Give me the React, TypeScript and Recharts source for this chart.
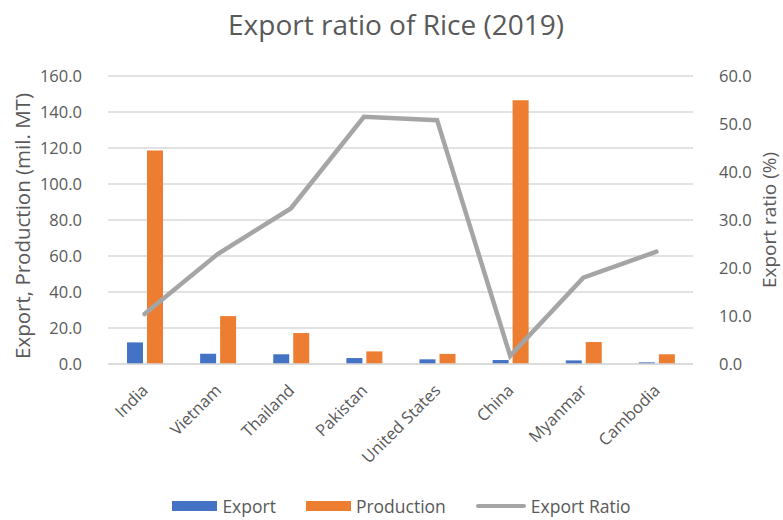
import React from "react";
import {
  Bar,
  CartesianGrid,
  ComposedChart,
  Legend,
  Line,
  XAxis,
  YAxis,
} from "recharts";

const countries = ["India", "Vietnam", "Thailand", "Pakistan", "United States", "China", "Myanmar", "Cambodia"];
const exportVals = [12.0, 5.7, 5.4, 3.3, 2.6, 2.2, 2.0, 0.9];
const productionVals = [118.6, 26.6, 17.2, 7.0, 5.6, 146.5, 12.2, 5.4];
const ratioVals = [10.4, 22.9, 32.4, 51.5, 50.8, 1.7, 18.0, 23.4];
const leftTicks = [0, 20, 40, 60, 80, 100, 120, 140, 160];
const rightTicks = [0, 10, 20, 30, 40, 50, 60];

const data = countries.map((name, i) => ({
  name,
  exp: exportVals[i],
  prod: productionVals[i],
  ratio: ratioVals[i],
}));

const FONT = "'Open Sans', 'Liberation Sans', sans-serif";
const TEXT = "#595959";

const legendItems = [
  { label: "Export", color: "#4472C4", kind: "bar" },
  { label: "Production", color: "#ED7D31", kind: "bar" },
  { label: "Export Ratio", color: "#A5A5A5", kind: "line" },
];

function XTick(props: any) {
  const { x, y, payload } = props;
  return (
    <g transform={`translate(${x + 1},${y + 16})`}>
      <text
        transform="rotate(-45)"
        textAnchor="end"
        dy={5}
        fill={TEXT}
        fontSize={16.5}
        fontFamily={FONT}
      >
        {payload.value}
      </text>
    </g>
  );
}

function LegendRow() {
  return (
    <div
      style={{
        display: "flex",
        justifyContent: "center",
        alignItems: "center",
        gap: 30,
        fontFamily: FONT,
        fontSize: 17.5,
        lineHeight: "20px",
        color: TEXT,
        marginTop: 12,
        paddingLeft: 20,
      }}
    >
      {legendItems.map((it) => (
        <div key={it.label} style={{ display: "flex", alignItems: "center", gap: 5 }}>
          {it.kind === "bar" ? (
            <span style={{ width: 45, height: 10, background: it.color, display: "inline-block" }} />
          ) : (
            <span
              style={{ width: 50, height: 4, borderRadius: 2, background: it.color, display: "inline-block" }}
            />
          )}
          <span>{it.label}</span>
        </div>
      ))}
    </div>
  );
}

export default function App() {
  return (
    <div style={{ position: "absolute", left: 0, top: 0, width: 783, height: 520, background: "#fff", overflow: "hidden" }}>
      <div
        style={{
          position: "absolute",
          left: 0,
          top: 5,
          width: 792,
          textAlign: "center",
          fontFamily: FONT,
          fontSize: 28,
          color: TEXT,
        }}
      >
        Export ratio of Rice (2019)
      </div>
      <ComposedChart
        width={783}
        height={520}
        data={data}
        margin={{ top: 76, right: 0, left: 0, bottom: 0 }}
        barGap={4}
      >
        <CartesianGrid yAxisId="left" vertical={false} stroke="#D9D9D9" strokeWidth={1.4} />
        <XAxis
          dataKey="name"
          tick={<XTick />}
          tickLine={false}
          axisLine={{ stroke: "#D9D9D9", strokeWidth: 1.4 }}
          interval={0}
          height={120}
        />
        <YAxis
          yAxisId="left"
          width={108}
          domain={[0, 160]}
          ticks={leftTicks}
          tickFormatter={(v: number) => v.toFixed(1)}
          tickLine={false}
          axisLine={false}
          tickMargin={20}
          tick={{ fill: TEXT, fontSize: 16.5, fontFamily: FONT }}
          label={{
            content: () => (
              <text
                x={22}
                y={226}
                transform="rotate(-90, 22, 226)"
                textAnchor="middle"
                dominantBaseline="central"
                fill={TEXT}
                fontSize={20.5}
                fontFamily={FONT}
              >
                Export, Production (mil. MT)
              </text>
            ),
          }}
        />
        <YAxis
          yAxisId="right"
          orientation="right"
          width={90}
          domain={[0, 60]}
          ticks={rightTicks}
          tickFormatter={(v: number) => v.toFixed(1)}
          tickLine={false}
          axisLine={false}
          tickMargin={20}
          tick={{ fill: TEXT, fontSize: 16.5, fontFamily: FONT }}
          label={{
            content: () => (
              <text
                x={769}
                y={220}
                transform="rotate(-90, 769, 220)"
                textAnchor="middle"
                dominantBaseline="central"
                fill={TEXT}
                fontSize={19}
                fontFamily={FONT}
              >
                Export ratio (%)
              </text>
            ),
          }}
        />
        <Bar yAxisId="left" dataKey="exp" name="Export" fill="#4472C4" barSize={16} isAnimationActive={false} />
        <Bar yAxisId="left" dataKey="prod" name="Production" fill="#ED7D31" barSize={16} isAnimationActive={false} />
        <Line
          yAxisId="right"
          type="linear"
          dataKey="ratio"
          name="Export Ratio"
          stroke="#A5A5A5"
          strokeWidth={4.5}
          dot={false}
          strokeLinecap="round"
          isAnimationActive={false}
        />
        <Legend verticalAlign="bottom" height={36} content={() => <LegendRow />} />
      </ComposedChart>
    </div>
  );
}
